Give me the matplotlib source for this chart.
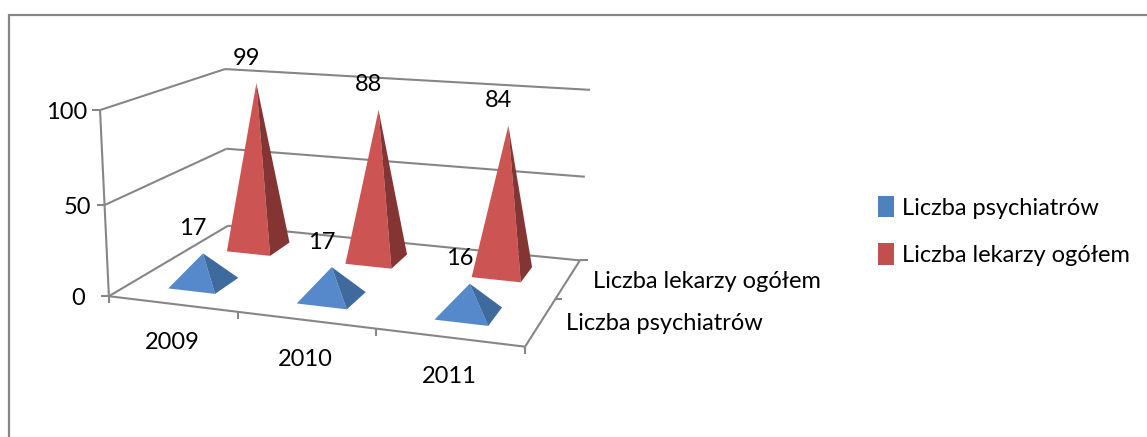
import numpy as np
import matplotlib
matplotlib.use("Agg")
import matplotlib.pyplot as plt
from matplotlib.patches import Patch, Polygon

years = ["2009", "2010", "2011"]
series_names = ["Liczba psychiatrów", "Liczba lekarzy ogółem"]
psychiatrists = [17, 17, 16]
doctors_total = [99, 88, 84]
value_ticks = [0, 50, 100]
VMAX = 100

plt.rcParams['font.family'] = ['Lato', 'DejaVu Sans']
FS = 17
W, H = 1147, 437
fig = plt.figure(figsize=(W / 100, H / 100), dpi=100)
ax = fig.add_axes([0, 0, 1, 1])
ax.set_xlim(0, W)
ax.set_ylim(H, 0)
ax.axis('off')

# Perspective camera fitted to the chart box corners (u=category, v=depth, w=value share)
box = [((0, 0, 0), (109, 296)), ((1, 0, 0), (525, 347)), ((0, 1, 0), (228, 226)),
       ((1, 1, 0), (580, 260)), ((0, 0, 1), (100, 110)), ((0, 1, 1), (225, 69)),
       ((1, 1, 1), (590, 90))]
A = []
for (u, v, w), (x, y) in box:
    A.append([u, v, w, 1, 0, 0, 0, 0, -x * u, -x * v, -x * w, -x])
    A.append([0, 0, 0, 0, u, v, w, 1, -y * u, -y * v, -y * w, -y])
P = np.linalg.svd(np.array(A, float))[2][-1].reshape(3, 4)


def proj(u, v, val=0):
    q = P @ np.array([u, v, val / VMAX, 1.0])
    return q[0] / q[2], q[1] / q[2]


LINE = '#868686'
LW = 1.5


def seg(a, b, lw=LW, color=LINE, z=1):
    ax.plot([a[0], b[0]], [a[1], b[1]], color=color, lw=lw, solid_capstyle='butt', zorder=z)


# frame
ax.plot([9, 9, W], [H, 15, 15], color=LINE, lw=1.6, solid_joinstyle='miter', zorder=0)

# walls and floor
for t in value_ticks:
    seg(proj(0, 0, t), proj(0, 1, t))
    seg(proj(0, 1, t), proj(1, 1, t))
seg(proj(0, 0, 0), proj(0, 0, VMAX))
seg(proj(0, 0, 0), proj(1, 0, 0))
seg(proj(1, 0, 0), proj(1, 1, 0))

# ticks and value labels
for t in value_ticks:
    x, y = proj(0, 0, t)
    seg((x - 8, y), (x, y))
    ax.text(x - (24 if t == 0 else 13), y + 2, str(t), ha='right', va='center',
            fontsize=FS, color='black')
for i in range(len(years) + 1):
    x, y = proj(i / len(years), 0, 0)
    seg((x, y), (x, y + 7))
x, y = proj(1, 1, 0)
seg((x, y), (x + 8, y))
x, y = proj(1, 0.5, 0)
seg((x, y), (x + 7, y))

# category and series labels
for i, yr in enumerate(years):
    x, y = proj((i + 0.5) / len(years), 0, 0)
    ax.text(x, y + 39, yr, ha='center', va='center', fontsize=FS, color='black')
ax.text(593, 281, series_names[1], ha='left', va='center', fontsize=FS, color='black')
ax.text(566, 324, series_names[0], ha='left', va='center', fontsize=FS, color='black')

FRONT = ['#5589CB', '#CC5452']
SIDE = ['#3E6A9E', '#833433']
HALF_U = 0.062
HALF_V = 0.1
DRAW = [(1, doctors_total), (0, psychiatrists)]
z = 5
for j, vals in DRAW:
    for i, val in enumerate(vals):
        uc = (i + 0.5) / len(vals)
        vc = (j + 0.5) / 2
        apex = proj(uc, vc, val)
        fl = proj(uc - HALF_U, vc - HALF_V)
        fr = proj(uc + HALF_U, vc - HALF_V)
        br = proj(uc + HALF_U, vc + HALF_V)
        ax.add_patch(Polygon([fl, fr, apex], closed=True, fc=FRONT[j], ec='none', zorder=z))
        ax.add_patch(Polygon([fr, br, apex], closed=True, fc=SIDE[j], ec='none', zorder=z))
        ax.text(apex[0] - 10, apex[1] - 25, str(val), ha='center', va='center',
                fontsize=FS, color='black', zorder=4)

handles = [Patch(fc='#4F81BD', ec='none'), Patch(fc='#C0504D', ec='none')]
ax.legend(handles, series_names, loc='upper left', bbox_to_anchor=(878 / W, 1 - 196 / H),
          frameon=False, fontsize=FS, handlelength=0.68, handleheight=1.0, handletextpad=0.34,
          labelspacing=1.05, borderpad=0, borderaxespad=0)

fig.savefig('out.png', dpi=100)
